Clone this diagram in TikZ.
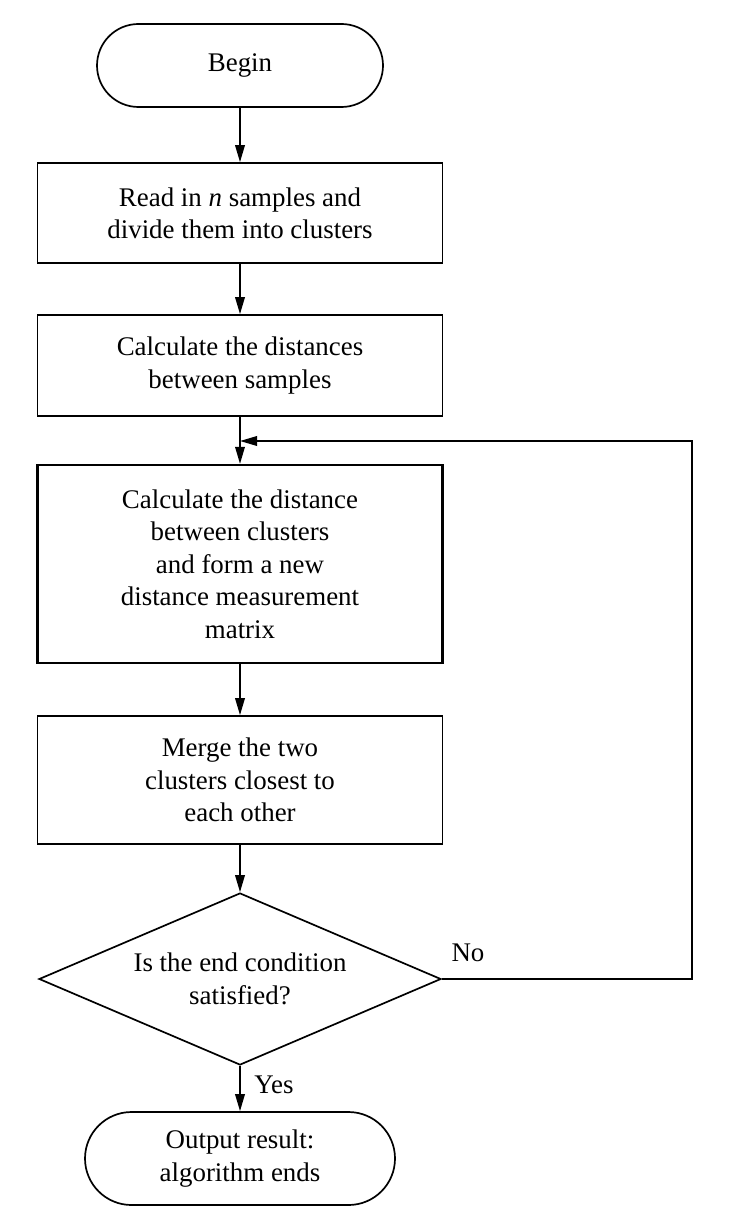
\documentclass[tikz,border=0pt]{standalone}
\usepackage{fontspec}
\setmainfont{Liberation Serif}
\usetikzlibrary{arrows.meta,shapes.geometric}
\begin{document}
\begin{tikzpicture}[x=1pt,y=1pt,
  every node/.style={font=\fontsize{13.45pt}{16.2pt}\selectfont, align=center, inner sep=0pt},
  procbox/.style={draw, line width=0.85pt, minimum width=202.5pt},
  termbox/.style={draw, line width=0.85pt},
  decbox/.style={draw, line width=0.85pt, shape=diamond, aspect=2.34, minimum width=201pt, minimum height=86pt},
  arr/.style={line width=0.8pt, -{Triangle[length=8.5pt,width=4.8pt]}},
  lbl/.style={font=\fontsize{13.45pt}{16.2pt}\selectfont}
]
\useasboundingbox (0,0) rectangle (366,-604.5);
\node[termbox, minimum width=143pt, minimum height=41.5pt, rounded corners=20.75pt] (begin) at (120,-32.75) {Begin};
\node[procbox, minimum height=50pt] (read) at (120,-106.5) {Read in \textit{n} samples and\\divide them into clusters};
\node[procbox, minimum height=50.5pt] (dist) at (120,-182.75) {Calculate the distances\\between samples};
\node[procbox, line width=1.15pt, minimum height=99pt] (clus) at (120,-282) {Calculate the distance\\between clusters\\and form a new\\distance measurement\\matrix};
\node[procbox, minimum height=64pt] (merge) at (120,-390) {Merge the two\\clusters closest to\\each other};
\node[decbox] (cond) at (120,-489.5) {Is the end condition\\satisfied?};
\node[termbox, minimum width=155pt, minimum height=46.5pt, rounded corners=23.25pt] (finish) at (120,-579.25) {Output result:\\algorithm ends};
\coordinate (c1) at (346,-489.5);
\coordinate (c2) at (346,-220.5);
\coordinate (c3) at (120,-220.5);
\draw[arr] (begin) -- (read);
\draw[arr] (read) -- (dist);
\draw[arr] (dist) -- (clus);
\draw[arr] (clus) -- (merge);
\draw[arr] (merge) -- (cond);
\draw[arr] (cond) -- (finish);
\draw[arr] (cond.east) -- (c1) -- (c2) -- (c3);
\node[lbl] (no) at (234,-476.5) {No};
\node[lbl] (yes) at (137,-542.5) {Yes};
\end{tikzpicture}
\end{document}
